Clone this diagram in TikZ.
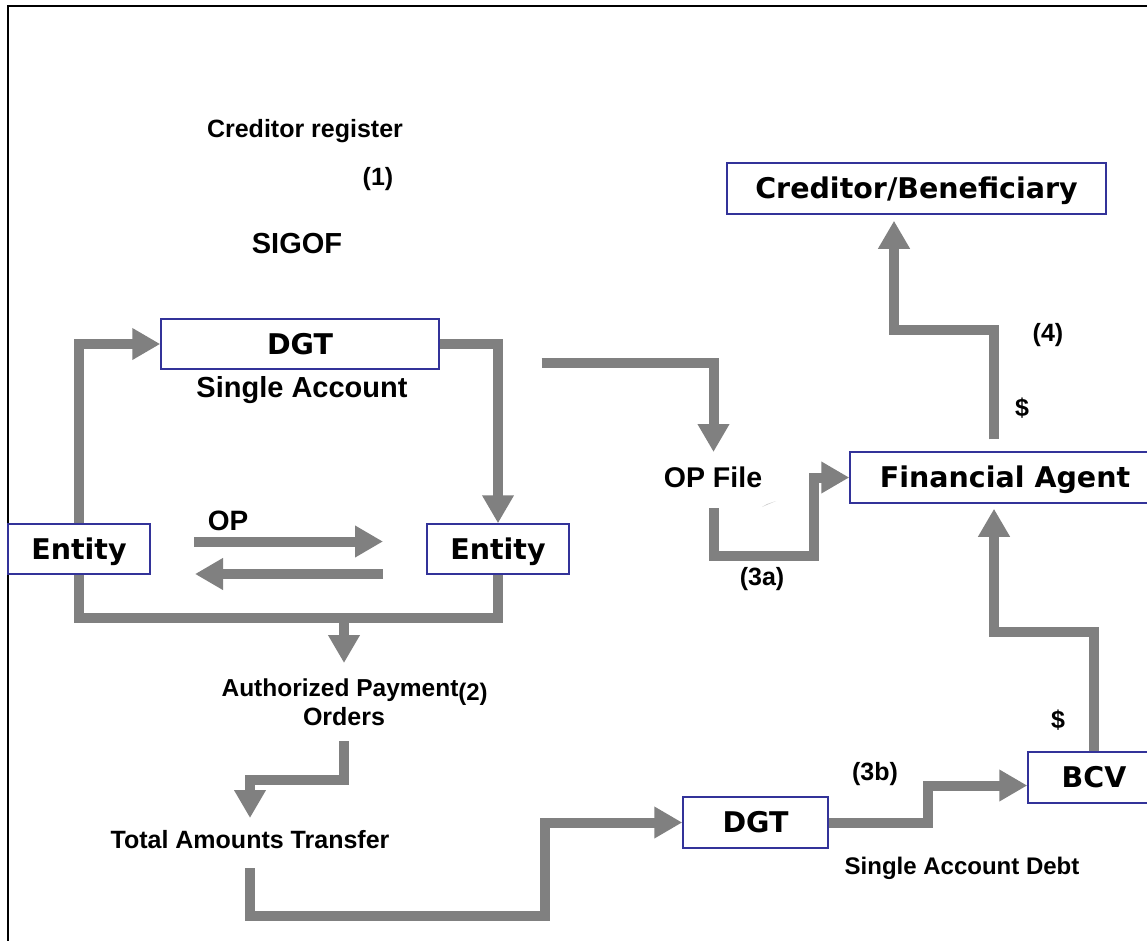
\documentclass[tikz,border=0pt]{standalone}
\usepackage{fontspec}
\setmainfont{Liberation Sans}
\newfontfamily\boxfont{DejaVu Sans}
\usetikzlibrary{arrows.meta}
\definecolor{pipegray}{RGB}{128,128,128}
\definecolor{boxblue}{RGB}{51,51,153}
\tikzset{
  pipe/.style={draw=pipegray, line width=10pt, line join=miter, line cap=butt},
  arr/.style={pipe, -{Triangle[width=30pt,length=28pt]}},
  box/.style={draw=boxblue, line width=1.5pt, fill=white, inner sep=0pt,
    font=\boxfont\bfseries\fontsize{28.5}{30}\selectfont, text height=20.8pt, text depth=0pt},
  lbl/.style={inner sep=0pt, font=\bfseries\fontsize{25}{30}\selectfont, text height=17.9pt, text depth=0pt},
  lblbig/.style={inner sep=0pt, font=\bfseries\fontsize{29}{34}\selectfont, text height=20.8pt, text depth=0pt},
}
\begin{document}
\begin{tikzpicture}[x=1pt,y=-1pt]
\useasboundingbox (0,0) rectangle (1147,941);
\fill[white] (0,0) rectangle (1147,941);
\draw[line width=2pt] (8,941) -- (8,6) -- (1147,6);

% boxes
\node[box, minimum width=379pt, minimum height=51pt] (cred) at (916.5,188.5) {Creditor/Beneficiary};
\node[box, minimum width=278pt, minimum height=50pt] (dgtA) at (300,344) {DGT};
\node[box, minimum width=142pt, minimum height=50pt] (entL) at (79,549) {Entity};
\node[box, minimum width=142pt, minimum height=50pt] (entR) at (498,549) {Entity};
\node[box, minimum width=310pt, minimum height=51pt] (fa) at (1005,477.5) {Financial Agent};
\node[box, minimum width=132pt, minimum height=51pt] (bcv) at (1094,777.5) {BCV};
\node[box, minimum width=145pt, minimum height=51pt] (dgtB) at (755.5,822.5) {DGT};

% labels
\node[lbl] (credreg) at (305,129) {Creditor register};
\node[lbl] (one) at (378,177) {(1)};
\node[lblbig] (sigof) at (297,243) {SIGOF};
\node[lblbig] (single) at (302,387) {Single Account};
\node[lblbig, font=\bfseries\fontsize{28}{32}\selectfont] (op) at (228,520) {OP};
\node[lblbig, font=\bfseries\fontsize{28.5}{32}\selectfont] (opfile) at (713,477) {OP File};
\node[lbl] (four) at (1048,333) {(4)};
\node[lbl] (dol1) at (1022,408) {\$};
\node[lbl] (threea) at (762,577) {(3a)};
\node[lbl, font=\bfseries\fontsize{24.5}{30}\selectfont] (auth) at (340,688) {Authorized Payment};
\node[lbl, font=\bfseries\fontsize{24}{30}\selectfont] (two) at (473,692) {(2)};
\node[lbl] (orders) at (344,717) {Orders};
\node[lbl] (total) at (250,840) {Total Amounts Transfer};
\node[lbl] (threeb) at (875,772) {(3b)};
\node[lbl, font=\bfseries\fontsize{24}{30}\selectfont] (debt) at (962,866) {Single Account Debt};
\node[lbl] (dol2) at (1058,720) {\$};

% coordinates
\coordinate (opA) at (194,541.5);
\coordinate (opB) at (383,541.5);
\coordinate (bkA) at (383,574);
\coordinate (bkB) at (195,574);
\coordinate (bus) at (344,618);
\coordinate (authtip) at (344,663);
\coordinate (ordA) at (344,741);
\coordinate (ordK) at (344,779.5);
\coordinate (tottip) at (250,818);
\coordinate (totA) at (250,868);
\coordinate (totK) at (545,915.5);
\coordinate (fileA) at (541.5,363);
\coordinate (filetip) at (713.5,452);
\coordinate (fileB) at (714,508);
\coordinate (fileK) at (814,555.5);
\coordinate (bcvK) at (1094,632);
\coordinate (faK) at (894,329.5);

% connectors
\draw[arr] (entL.north) |- (dgtA.west);
\draw[arr] (dgtA.east) -| (entR.north);
\draw[arr] (opA) -- (opB);
\draw[arr] (bkA) -- (bkB);
\draw[pipe] (entL.south) |- (bus) -| (entR.south);
\draw[arr] (bus) -- (authtip);
\draw[arr] (ordA) -- (ordK) -| (tottip);
\draw[arr] (totA) |- (totK) |- (dgtB.west);
\draw[arr] (fileA) -| (filetip);
\draw[arr] (fileB) |- (fileK) |- (fa.west);
\draw[arr] (dgtB.east) -- ++(99.5,0) |- ([yshift=-8pt]bcv.west);
\draw[arr, shorten >=5pt] (bcv.north) -- (bcvK) -| ([xshift=-11pt]fa.south);
\draw[arr, shorten >=6pt, shorten <=12pt] ([xshift=-11pt]fa.north) |- (faK) -- (faK |- cred.south);

% small artifact
\fill[gray!40] (762,507) -- (776,501) -- (767,504) -- cycle;
\end{tikzpicture}
\end{document}
